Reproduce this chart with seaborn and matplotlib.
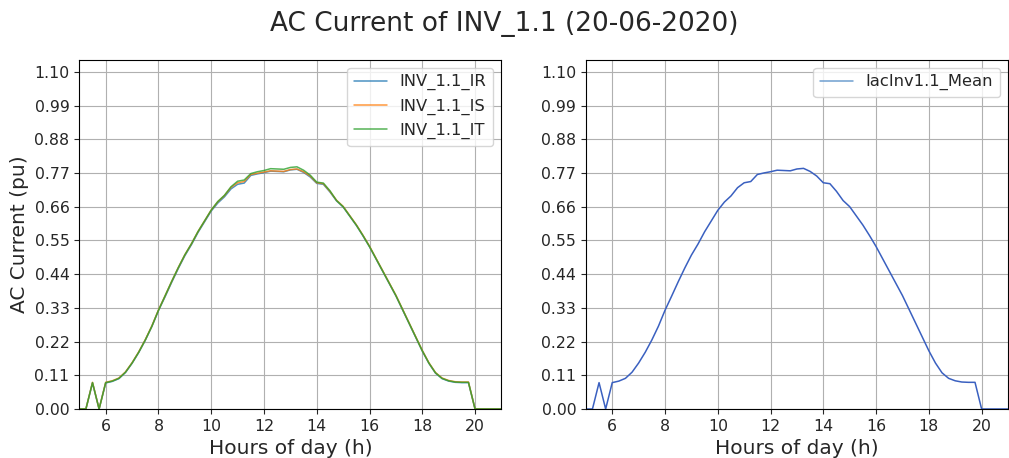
import matplotlib
matplotlib.use("Agg")
import matplotlib.pyplot as plt
import seaborn as sns
import pandas as pd
import numpy as np

hours = [5.0, 5.25, 5.5, 5.75, 6.0, 6.25, 6.5, 6.75, 7.0, 7.25, 7.5, 7.75,
         8.0, 8.25, 8.5, 8.75, 9.0, 9.25, 9.5, 9.75, 10.0, 10.25, 10.5, 10.75,
         11.0, 11.25, 11.5, 11.75, 12.0, 12.25, 12.5, 12.75, 13.0, 13.25, 13.5, 13.75,
         14.0, 14.25, 14.5, 14.75, 15.0, 15.25, 15.5, 15.75, 16.0, 16.25, 16.5, 16.75,
         17.0, 17.25, 17.5, 17.75, 18.0, 18.25, 18.5, 18.75, 19.0, 19.25, 19.5, 19.75,
         20.0, 20.25, 20.5, 20.75, 21.0]

iac_mean = [0.0, 0.0, 0.086, 0.0, 0.086, 0.091, 0.100, 0.120, 0.150, 0.185, 0.225, 0.270,
            0.322, 0.368, 0.415, 0.460, 0.502, 0.538, 0.578, 0.613, 0.648, 0.675, 0.695, 0.722,
            0.738, 0.742, 0.765, 0.770, 0.774, 0.779, 0.778, 0.777, 0.783, 0.785, 0.775, 0.760,
            0.738, 0.735, 0.710, 0.680, 0.660, 0.630, 0.600, 0.566, 0.530, 0.490, 0.450, 0.410,
            0.370, 0.325, 0.280, 0.235, 0.190, 0.150, 0.118, 0.100, 0.092, 0.088, 0.087, 0.087,
            0.0, 0.0, 0.0, 0.0, 0.0]

iac_ir = [0.0, 0.0, 0.085, 0.0, 0.085, 0.090, 0.099, 0.119, 0.149, 0.184, 0.224, 0.269,
          0.321, 0.366, 0.413, 0.458, 0.500, 0.536, 0.576, 0.611, 0.646, 0.672, 0.692, 0.718,
          0.733, 0.737, 0.762, 0.767, 0.771, 0.776, 0.775, 0.774, 0.780, 0.782, 0.772, 0.757,
          0.736, 0.733, 0.708, 0.679, 0.659, 0.629, 0.599, 0.565, 0.529, 0.489, 0.449, 0.409,
          0.369, 0.324, 0.279, 0.234, 0.189, 0.149, 0.117, 0.099, 0.091, 0.087, 0.086, 0.086,
          0.0, 0.0, 0.0, 0.0, 0.0]

iac_is = [0.0, 0.0, 0.087, 0.0, 0.087, 0.092, 0.101, 0.121, 0.151, 0.186, 0.226, 0.271,
          0.323, 0.369, 0.416, 0.461, 0.503, 0.539, 0.579, 0.614, 0.649, 0.676, 0.696, 0.723,
          0.738, 0.742, 0.765, 0.769, 0.773, 0.777, 0.776, 0.775, 0.781, 0.783, 0.774, 0.760,
          0.738, 0.735, 0.710, 0.681, 0.661, 0.631, 0.601, 0.567, 0.531, 0.491, 0.451, 0.411,
          0.371, 0.326, 0.281, 0.236, 0.191, 0.151, 0.119, 0.101, 0.093, 0.089, 0.088, 0.088,
          0.0, 0.0, 0.0, 0.0, 0.0]

iac_it = [0.0, 0.0, 0.086, 0.0, 0.086, 0.091, 0.100, 0.120, 0.150, 0.185, 0.225, 0.270,
          0.322, 0.369, 0.416, 0.461, 0.503, 0.539, 0.579, 0.614, 0.649, 0.677, 0.697, 0.725,
          0.743, 0.747, 0.768, 0.774, 0.778, 0.784, 0.783, 0.782, 0.788, 0.790, 0.779, 0.763,
          0.740, 0.737, 0.712, 0.680, 0.660, 0.630, 0.600, 0.566, 0.530, 0.490, 0.450, 0.410,
          0.370, 0.325, 0.280, 0.235, 0.190, 0.150, 0.118, 0.100, 0.092, 0.088, 0.087, 0.087,
          0.0, 0.0, 0.0, 0.0, 0.0]

phase_names = ["INV_1.1_IR", "INV_1.1_IS", "INV_1.1_IT"]
mean_name = "IacInv1.1_Mean"
yticks = [0.0, 0.11, 0.22, 0.33, 0.44, 0.55, 0.66, 0.77, 0.88, 0.99, 1.10]
xticks = [6, 8, 10, 12, 14, 16, 18, 20]

sns.set_style("ticks")
plt.rcParams["font.family"] = ["DejaVu Sans"]

long_df = pd.DataFrame({
    "hour": hours * 3,
    "value": iac_ir + iac_is + iac_it,
    "series": [phase_names[0]] * len(hours) + [phase_names[1]] * len(hours) + [phase_names[2]] * len(hours),
})
mean_df = pd.DataFrame({"hour": hours, "value": iac_mean})

fig, axes = plt.subplots(1, 2, figsize=(10.09, 4.58), dpi=100)
fig.subplots_adjust(left=0.0786, right=0.999, top=0.870, bottom=0.107, wspace=0.20)

palette = {phase_names[0]: "#1f77b4", phase_names[1]: "#ff7f0e", phase_names[2]: "#2ca02c"}
ax = axes[0]
sns.lineplot(data=long_df, x="hour", y="value", hue="series", palette=palette,
             ax=ax, linewidth=1.1, alpha=0.8)
ax.set_ylabel("AC Current (pu)", fontsize=14.5)
ax.legend(loc="upper right", fontsize=11.8, framealpha=0.8)

ax2 = axes[1]
sns.lineplot(data=mean_df, x="hour", y="value", color="#3a60c0", ax=ax2,
             linewidth=1.1, label=mean_name)
ax2.set_ylabel("")
leg2 = ax2.legend(loc="upper right", fontsize=11.8, framealpha=0.8)
for h in leg2.get_lines():
    h.set_color("#6f9fd0")

for a in axes:
    a.set_xlim(5, 21)
    a.set_ylim(0, 1.14)
    a.set_xticks(xticks)
    a.set_yticks(yticks)
    a.set_yticklabels([f"{v:.2f}" for v in yticks])
    a.tick_params(labelsize=11.3)
    a.set_xlabel("Hours of day (h)", fontsize=14.5)
    a.grid(True, color="#b0b0b0", linewidth=0.8)
    for s in a.spines.values():
        s.set_visible(True)
        s.set_color("black")
        s.set_linewidth(0.8)

fig.suptitle("AC Current of INV_1.1 (20-06-2020)", fontsize=19, y=0.975)
fig.savefig("out.png", dpi=100, facecolor="white")
